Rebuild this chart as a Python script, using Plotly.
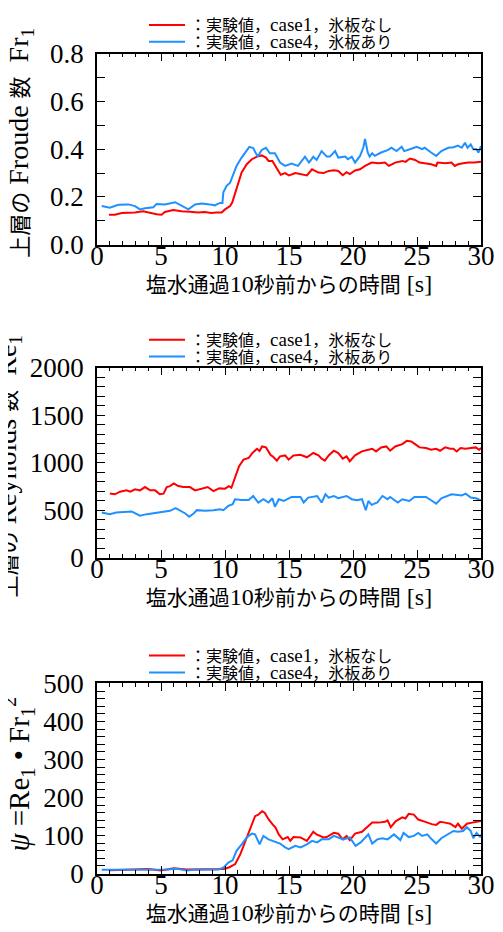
import plotly.graph_objects as go

# ---------------- data ----------------
# Panel 1: Froude number Fr1
fr_red_t = [0.94, 1.4, 1.93, 2.45, 2.97, 3.6, 4.1, 4.66, 5.05, 5.3, 5.96, 6.6, 7.27, 7.9, 8.4, 8.95, 9.3, 9.74,
            10.0, 10.4, 10.57, 10.78, 11.04, 11.3, 11.7, 12.1, 12.5, 12.87, 13.2, 13.4, 13.7, 14.04, 14.35, 14.7,
            15.0, 15.5, 16.0, 16.4, 16.8, 17.3, 17.7, 18.1, 18.5, 18.85, 19.2, 19.5, 19.75, 20.16, 20.55, 20.94,
            21.46, 22.0, 22.5, 22.8, 23.3, 23.85, 24.1, 24.45, 24.85, 25.2, 25.6, 26.1, 26.5, 26.6, 27.2, 27.7,
            27.95, 28.2, 28.6, 29.0, 29.5, 30.0]
fr_red_v = [0.126, 0.126, 0.133, 0.133, 0.135, 0.140, 0.133, 0.128, 0.126, 0.137, 0.145, 0.140, 0.138, 0.135, 0.137,
            0.133, 0.135, 0.135, 0.148, 0.162, 0.178, 0.213, 0.261, 0.303, 0.337, 0.358, 0.369, 0.374, 0.365, 0.351,
            0.351, 0.323, 0.293, 0.300, 0.290, 0.300, 0.296, 0.290, 0.316, 0.302, 0.300, 0.309, 0.312, 0.309, 0.291,
            0.304, 0.296, 0.311, 0.316, 0.330, 0.344, 0.341, 0.344, 0.330, 0.344, 0.351, 0.347, 0.361, 0.355, 0.344,
            0.341, 0.337, 0.330, 0.344, 0.341, 0.344, 0.330, 0.337, 0.341, 0.344, 0.344, 0.347]
fr_blue_t = [0.37, 1.0, 1.67, 2.45, 2.97, 3.36, 3.75, 4.4, 4.66, 5.3, 6.1, 6.6, 7.14, 7.66, 8.2, 8.8, 9.2, 9.6, 9.8,
             9.87, 10.13, 10.4, 10.65, 10.9, 11.3, 11.56, 11.9, 12.2, 12.55, 12.87, 13.2, 13.5, 13.9, 14.3, 14.7,
             15.2, 15.7, 16.25, 16.56, 16.9, 17.16, 17.55, 17.95, 18.2, 18.6, 18.85, 19.4, 19.6, 19.9, 20.16, 20.55,
             20.8, 20.94, 21.15, 21.3, 21.5, 21.7, 22.2, 22.75, 23.0, 23.4, 23.8, 24.0, 24.45, 24.98, 25.4, 25.6,
             26.1, 26.5, 26.9, 27.45, 27.85, 28.2, 28.5, 28.75, 28.95, 29.2, 29.4, 29.65, 29.8, 30.0]
fr_blue_v = [0.162, 0.155, 0.167, 0.169, 0.162, 0.148, 0.153, 0.157, 0.171, 0.169, 0.178, 0.164, 0.148, 0.169, 0.173,
             0.169, 0.165, 0.175, 0.175, 0.220, 0.247, 0.260, 0.296, 0.330, 0.365, 0.386, 0.410, 0.405, 0.369, 0.397,
             0.406, 0.383, 0.383, 0.344, 0.330, 0.340, 0.330, 0.369, 0.344, 0.368, 0.355, 0.392, 0.369, 0.369, 0.392,
             0.365, 0.369, 0.358, 0.369, 0.344, 0.372, 0.406, 0.443, 0.386, 0.369, 0.383, 0.372, 0.386, 0.397, 0.406,
             0.392, 0.410, 0.392, 0.400, 0.410, 0.400, 0.406, 0.386, 0.372, 0.392, 0.406, 0.408, 0.415, 0.406, 0.427,
             0.406, 0.420, 0.400, 0.400, 0.386, 0.413]

# Panel 2: Reynolds number Re1
re_red_t = [1.0, 1.4, 1.8, 2.3, 2.6, 2.97, 3.36, 3.75, 4.15, 4.55, 4.9, 5.2, 5.45, 5.7, 6.0, 6.35, 6.75, 7.26, 7.66,
            8.2, 8.65, 9.1, 9.55, 10.0, 10.3, 10.5, 10.78, 11.1, 11.45, 11.85, 12.15, 12.5, 12.7, 12.9, 13.2, 13.55,
            13.8, 14.05, 14.3, 14.7, 14.97, 15.35, 15.9, 16.4, 16.9, 17.3, 17.55, 17.8, 18.1, 18.5, 18.85, 19.2,
            19.5, 19.75, 20.16, 20.7, 21.2, 21.5, 21.8, 22.2, 22.6, 22.9, 23.3, 23.85, 24.2, 24.55, 24.85, 25.2,
            25.7, 26.1, 26.5, 26.8, 27.2, 27.6, 27.85, 28.1, 28.4, 28.8, 29.2, 29.6, 29.85, 30.0]
re_red_v = [674, 667, 694, 708, 694, 719, 708, 743, 708, 708, 667, 674, 743, 753, 781, 753, 743, 743, 708,
            729, 743, 701, 729, 726, 753, 736, 840, 962, 1031, 1049, 1101, 1146, 1122, 1170, 1160, 1083,
            1056, 1021, 1066, 1076, 1031, 1076, 1083, 1056, 1101, 1076, 1042, 1021, 1076, 1125, 1101, 1042,
            1066, 1014, 1076, 1118, 1135, 1146, 1118, 1160, 1170, 1125, 1170, 1194, 1229, 1222, 1194, 1160,
            1153, 1135, 1146, 1125, 1160, 1146, 1146, 1118, 1153, 1146, 1153, 1160, 1135, 1153]
re_blue_t = [0.37, 1.0, 1.5, 2.2, 2.7, 3.0, 3.36, 3.9, 4.4, 5.05, 5.7, 6.15, 6.55, 6.9, 7.2, 7.55, 7.8, 8.45, 9.1,
             9.6, 9.87, 10.26, 10.6, 10.78, 11.3, 11.85, 12.2, 12.6, 13.0, 13.4, 13.7, 13.9, 14.2, 14.6, 15.2,
             15.9, 16.15, 16.5, 17.2, 17.55, 17.85, 18.1, 18.5, 18.85, 19.5, 19.9, 20.3, 20.7, 21.0, 21.2, 21.45,
             21.9, 22.3, 22.7, 22.9, 23.5, 23.85, 24.4, 24.8, 25.3, 25.7, 26.1, 26.5, 26.9, 27.45, 27.7, 28.2,
             28.5, 28.8, 29.2, 29.6, 30.0]
re_blue_v = [476, 458, 476, 483, 486, 465, 441, 458, 469, 486, 493, 521, 493, 465, 431, 465, 500, 493, 500,
             510, 500, 545, 563, 615, 608, 608, 649, 580, 615, 580, 625, 535, 615, 597, 639,
             639, 580, 632, 649, 580, 667, 632, 649, 625, 649, 615, 604, 615, 500, 597, 556,
             580, 649, 615, 639, 580, 615, 597, 639, 639, 639, 604, 569, 625, 649, 667, 660,
             655, 674, 632, 625, 604]

# Panel 3: psi = Re1 * Fr1^2
psi_red_t = [1.0, 2.0, 3.0, 4.0, 5.0, 6.0, 7.0, 8.0, 9.0, 9.9, 10.3, 10.8, 11.2, 11.6, 11.95, 12.35, 12.6, 12.9,
             13.1, 13.4, 13.7, 13.95, 14.2, 14.5, 14.9, 15.1, 15.35, 15.9, 16.4, 16.9, 17.15, 17.7, 17.95, 18.5,
             18.85, 19.2, 19.5, 19.75, 20.16, 20.7, 21.2, 21.5, 22.0, 22.5, 22.7, 22.95, 23.35, 23.85, 24.1, 24.35,
             24.75, 25.1, 25.65, 26.15, 26.5, 26.8, 27.2, 27.6, 28.0, 28.2, 28.5, 28.9, 29.3, 29.7, 30.0]
psi_red_v = [9, 10, 11, 12, 8, 14, 11, 11, 11, 12, 16, 25, 51, 86, 116, 151, 155, 164,
             160, 143, 130, 121, 103, 90, 96, 86, 96, 95, 86, 110, 103, 95, 96, 107,
             105, 90, 99, 88, 105, 110, 125, 134, 134, 136, 140, 122, 138, 148, 145, 157,
             155, 142, 136, 130, 128, 136, 134, 131, 122, 131, 118, 131, 134, 136, 138]
psi_blue_t = [0.37, 1.5, 2.5, 3.5, 4.5, 5.5, 6.2, 7.0, 7.6, 8.5, 9.5, 9.9, 10.26, 10.6, 10.9, 11.3, 11.7, 12.1,
              12.35, 12.7, 13.0, 13.4, 13.8, 14.0, 14.3, 14.7, 14.97, 15.5, 15.9, 16.4, 16.8, 17.2, 17.55, 18.1,
              18.5, 18.85, 19.25, 19.75, 20.2, 20.6, 20.94, 21.2, 21.5, 21.9, 22.3, 22.7, 23.2, 23.7, 23.95, 24.35,
              24.75, 25.1, 25.4, 25.8, 26.15, 26.5, 26.9, 27.45, 27.85, 28.2, 28.6, 28.9, 29.2, 29.4, 29.65, 29.95,
              30.0]
psi_blue_v = [10, 10, 11, 10, 10, 11, 13, 8, 10, 11, 11, 16, 29, 35, 60, 77, 95, 105,
              103, 77, 99, 90, 86, 84, 79, 69, 64, 73, 69, 77, 86, 82, 90, 90,
              99, 95, 90, 95, 73, 82, 93, 103, 79, 90, 93, 90, 103, 88, 107, 96,
              99, 107, 99, 103, 90, 79, 93, 103, 112, 110, 112, 122, 112, 93, 107, 96,
              103]

CJK = '<span style="font-size:16px">{}</span>'
LAT = '<span style="font-size:19px">{}</span>'
legend_red = CJK.format("：実験値，") + LAT.format("case1") + CJK.format("，氷板なし")
legend_blue = CJK.format("：実験値，") + LAT.format("case4") + CJK.format("，氷板あり")

x_title = '<span style="font-size:21px">塩水通過</span><span style="font-size:24px">10</span>' \
          '<span style="font-size:21px">秒前からの時間</span><span style="font-size:24px"> [s]</span>'
YC = '<span style="font-size:22px">{}</span>'
y_titles = [YC.format("上層の") + " Froude " + YC.format("数") + "  Fr<sub>1</sub>",
            YC.format("上層の") + " Reynolds " + YC.format("数") + "  Re<sub>1</sub>",
            "<i>ψ</i> =Re<sub>1</sub> • Fr<sub>1</sub><sup>2</sup>"]
y_title_sizes = [28, 28, 29]

RED = "#ff0000"
BLUE = "#1e90ff"
FONT = "Liberation Serif, Noto Sans CJK JP, serif"
TICKFONT = "Liberation Serif"

# The page body adds an 8px offset, so the figure is 495x924 and all
# pixel positions below are measured on the screen minus that offset.
OFF = 8
W, H = 503 - OFF, 932 - OFF
px_x = (97 - OFF, 481 - OFF)
panels_px = [(45 - OFF, 238 - OFF), (362 - OFF, 554 - OFF), (681 - OFF, 873 - OFF)]
legend_px = [(16 - OFF, 33 - OFF), (334 - OFF, 351 - OFF), (653 - OFF, 670 - OFF)]
ytitle_px = [(21 - OFF, 135 - OFF), (9 - OFF, 462 - OFF), (18 - OFF, 773 - OFF)]  # centre x, centre y
XLABEL_RAISE = 8  # px: x tick labels sit closer to the frame than plotly's default

series = [
    (fr_red_t, fr_red_v, fr_blue_t, fr_blue_v),
    (re_red_t, re_red_v, re_blue_t, re_blue_v),
    (psi_red_t, psi_red_v, psi_blue_t, psi_blue_v),
]
yranges = [(0, 0.8, 0.2, 0.1, ".1f"), (0, 2000, 500, 100, "d"), (0, 500, 100, 20, "d")]

fig = go.Figure()
layout = dict(
    width=W, height=H, margin=dict(l=0, r=0, t=0, b=0),
    paper_bgcolor="white", plot_bgcolor="white",
    font=dict(family=FONT, color="black"),
    showlegend=True,
    annotations=[],
)

axis_common = dict(
    showline=True, linecolor="black", linewidth=1.5, mirror="allticks",
    ticks="inside", ticklen=8, tickwidth=1.3, tickcolor="black",
    showgrid=False, zeroline=False, automargin=False,
    tickfont=dict(family=TICKFONT, size=27, color="black"),
)

for i, (rt, rv, bt, bv) in enumerate(series):
    n = i + 1
    xa = "x" if n == 1 else f"x{n}"
    ya = "y" if n == 1 else f"y{n}"
    xl = f"x{n + 3}"
    lr = "legend" if n == 1 else f"legend{2*n-1}"
    lb = f"legend{2*n}"
    fig.add_trace(go.Scatter(x=rt, y=rv, mode="lines", line=dict(color=RED, width=2),
                             name=legend_red, xaxis=xa, yaxis=ya, legend=lr))
    fig.add_trace(go.Scatter(x=bt, y=bv, mode="lines", line=dict(color=BLUE, width=2),
                             name=legend_blue, xaxis=xa, yaxis=ya, legend=lb))
    y0, y1, dt, mdt, fmt = yranges[i]
    # invisible helper so the label axis is drawn
    fig.add_trace(go.Scatter(x=[0, 30], y=[y0, y0], mode="lines", opacity=0, showlegend=False,
                             hoverinfo="skip", xaxis=xl, yaxis=ya))
    top, bot = panels_px[i]
    ydom = [1 - bot / H, 1 - top / H]
    xdom = [px_x[0] / W, px_x[1] / W]
    # frame axis (ticks, no labels)
    layout["xaxis" if n == 1 else f"xaxis{n}"] = dict(
        axis_common, domain=xdom, anchor=ya, range=[0, 30], dtick=5, tick0=0,
        showticklabels=False,
        minor=dict(dtick=1, ticklen=4, ticks="inside", tickcolor="black", tickwidth=1.2),
    )
    # label axis (tick labels + title), overlaid on the frame axis
    layout[f"xaxis{n + 3}"] = dict(
        overlaying=xa, anchor="free", position=ydom[0] + XLABEL_RAISE / H,
        domain=xdom, range=[0, 30], dtick=5, tick0=0,
        showline=False, ticks="", showgrid=False, zeroline=False, automargin=False,
        tickfont=dict(family=TICKFONT, size=27, color="black"),
        title=dict(text=x_title, font=dict(family=FONT, size=21, color="black"), standoff=0),
    )
    layout["yaxis" if n == 1 else f"yaxis{n}"] = dict(
        axis_common, domain=ydom, anchor=xa, range=[y0, y1], dtick=dt, tick0=0,
        tickformat=fmt, ticklabelstandoff=6,
        minor=dict(dtick=mdt, ticklen=4, ticks="inside", tickcolor="black", tickwidth=1.2),
    )
    tx, ty = ytitle_px[i]
    layout["annotations"].append(dict(
        text=y_titles[i], xref="paper", yref="paper", x=tx / W, y=1 - ty / H,
        xanchor="center", yanchor="middle", textangle=-90, showarrow=False,
        font=dict(family=FONT, size=y_title_sizes[i], color="black"),
    ))
    ly1, ly2 = legend_px[i]
    for lname, ly in ((lr, ly1), (lb, ly2)):
        layout[lname] = dict(
            x=136 / W, xanchor="left", y=1 - ly / H, yanchor="middle",
            bgcolor="rgba(0,0,0,0)", borderwidth=0,
            font=dict(family=FONT, size=16, color="black"),
            itemwidth=36, tracegroupgap=0,
        )

fig.update_layout(**layout)
fig.write_html("out.html")
